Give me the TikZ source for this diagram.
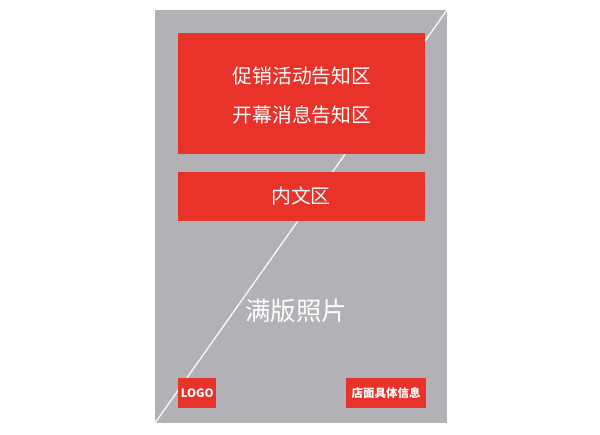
\documentclass[tikz,border=0pt]{standalone}
\usepackage{fontspec}
\newfontfamily\cjk{Noto Sans CJK SC}
\definecolor{panelgray}{HTML}{B2B1B6}
\definecolor{boxred}{HTML}{E8322A}
\begin{document}
\begin{tikzpicture}[x=1pt,y=-1pt,
  redbox/.style={fill=boxred,draw=none,inner sep=0pt},
  wtext/.style={text=white,font=\cjk\fontsize{19.8}{19.8}\selectfont,inner sep=0pt}]
\useasboundingbox (0,0) rectangle (600,435);
\fill[panelgray] (155,10) rectangle (447,423);
\coordinate (dl) at (155,423);
\coordinate (dr) at (447,10);
\draw[white,line width=1.2pt] (dl) -- (dr);
\node[redbox,minimum width=247pt,minimum height=121pt,anchor=north west] (top) at (178,33) {};
\node[wtext] (t1) at (302,76) {促销活动告知区};
\node[wtext] (t2) at (302,115) {开幕消息告知区};
\node[redbox,minimum width=247pt,minimum height=49pt,anchor=north west] (mid) at (178,172) {};
\node[wtext] at (301,196) {内文区};
\node[wtext,font=\cjk\fontsize{25.5}{25.5}\selectfont] (photo) at (296,311) {满版照片};
\node[redbox,minimum width=38pt,minimum height=30pt,anchor=north west] (logo) at (178,378) {};
\node[text=white,font=\cjk\bfseries\fontsize{11.5}{11.5}\selectfont,inner sep=0pt] at (logo.center) {LOGO};
\node[redbox,minimum width=80pt,minimum height=30pt,anchor=north west] (store) at (346,378) {};
\node[text=white,font=\cjk\bfseries\fontsize{11.5}{11.5}\selectfont,inner sep=0pt] at (store.center) {店面具体信息};
\end{tikzpicture}
\end{document}
